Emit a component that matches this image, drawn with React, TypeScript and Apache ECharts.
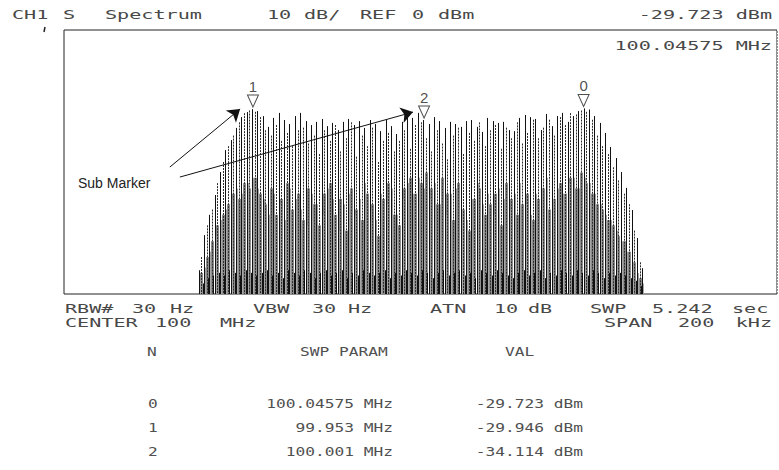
import React, { useEffect, useRef } from "react";
import * as echarts from "echarts";

// ---- data (frequency offset from 100 MHz centre in kHz, level in dBm) ----
const blackKHz = [
  -62.25, -60.75, -59.25, -57.75, -56.25, -54.75, -53.25, -51.75, -50.25, -48.75,
  -47.25, -45.75, -44.25, -42.75, -41.25, -39.75, -38.25, -36.75, -35.25, -33.75,
  -32.25, -30.75, -29.25, -27.75, -26.25, -24.75, -23.25, -21.75, -20.25, -18.75,
  -17.25, -15.75, -14.25, -12.75, -11.25, -9.75, -8.25, -6.75, -5.25, -3.75,
  -2.25, -0.75, 0.75, 2.25, 3.75, 5.25, 6.75, 8.25, 9.75, 11.25,
  12.75, 14.25, 15.75, 17.25, 18.75, 20.25, 21.75, 23.25, 24.75, 26.25,
  27.75, 29.25, 30.75, 32.25, 33.75, 35.25, 36.75, 38.25, 39.75, 41.25,
  42.75, 44.25, 45.75, 47.25, 48.75, 50.25, 51.75, 53.25, 54.75, 56.25,
  57.75, 59.25, 60.75, 62.25,
];
const blackDbm = [
  -91, -77.7, -70, -62.5, -53.8, -45.5, -41.7, -37.1, -33, -31.1,
  -30, -30.7, -32.6, -36.7, -33.3, -31.4, -34.1, -35.6, -32.6, -31.4,
  -34.5, -36, -34.8, -33.7, -36.4, -35.2, -37.9, -34.8, -33.7, -36,
  -34.5, -37.1, -34.1, -35.6, -38.3, -34.1, -36.4, -39.4, -34.8, -32.6,
  -33.3, -31.4, -34.1, -35.6, -33, -34.5, -37.1, -34.8, -35.6, -36.7,
  -34.5, -34.1, -36.7, -38.6, -33.3, -34.5, -35.2, -34.8, -37.9, -38.3,
  -33.3, -32.2, -33, -33.7, -37.9, -31.8, -36.4, -32.6, -31.4, -34.8,
  -32.6, -30.7, -29.7, -30.1, -32.6, -35.2, -39, -44.3, -48.5, -53.8,
  -59.8, -68.2, -78.8, -90.2,
];
// lower-level grey trace at the same comb positions
const greyBlackDbm = [
  -95, -90, -84, -78, -72, -68, -64, -60, -62, -58,
  -56, -60, -64, -70, -62, -66, -72, -60, -64, -68,
  -74, -62, -66, -70, -60, -64, -76, -66, -62, -70,
  -64, -58, -68, -72, -62, -66, -60, -70, -64, -58,
  -62, -56, -60, -64, -58, -66, -70, -62, -60, -68,
  -72, -64, -58, -66, -62, -70, -60, -64, -68, -62,
  -58, -66, -70, -62, -60, -56, -64, -60, -62, -58,
  -56, -60, -56, -58, -62, -66, -70, -72, -76, -80,
  -84, -88, -92, -96,
];
const dottedKHz = [
  -61.5, -60, -58.5, -57, -55.5, -54, -52.5, -51, -49.5, -48,
  -46.5, -45, -43.5, -42, -40.5, -39, -37.5, -36, -34.5, -33,
  -31.5, -30, -28.5, -27, -25.5, -24, -22.5, -21, -19.5, -18,
  -16.5, -15, -13.5, -12, -10.5, -9, -7.5, -6, -4.5, -3,
  -1.5, 0, 1.5, 3, 4.5, 6, 7.5, 9, 10.5, 12,
  13.5, 15, 16.5, 18, 19.5, 21, 22.5, 24, 25.5, 27,
  28.5, 30, 31.5, 33, 34.5, 36, 37.5, 39, 40.5, 42,
  43.5, 45, 46.5, 48, 49.5, 51, 52.5, 54, 55.5, 57,
  58.5, 60, 61.5,
];
const dottedDbm = [
  -86, -74, -68, -58, -50, -44, -40, -35, -31.5, -30.5,
  -31, -33, -38, -40, -36, -42, -39, -44, -38, -37,
  -43, -40, -47, -38, -42, -36, -46, -41, -35, -48,
  -40, -44, -37, -50, -42, -39, -46, -42, -38, -45,
  -36, -35, -41, -46, -38, -43, -49, -40, -37, -47,
  -39, -42, -35, -44, -38, -36, -45, -37, -41, -35,
  -43, -39, -34, -41, -37, -34, -40, -33, -36, -31.5,
  -32, -30.5, -31, -34, -40, -44, -47, -52, -57, -62,
  -66, -76, -88,
];
const greyDbm = [
  -92, -86, -80, -74, -70, -66, -62, -64, -58, -60,
  -56, -62, -66, -60, -70, -64, -58, -68, -62, -72,
  -60, -66, -74, -62, -58, -70, -64, -76, -60, -68,
  -72, -62, -66, -78, -64, -58, -70, -74, -60, -56,
  -62, -58, -54, -60, -66, -56, -62, -72, -58, -68,
  -76, -64, -60, -70, -66, -62, -74, -58, -64, -70,
  -66, -62, -72, -64, -60, -68, -64, -58, -62, -56,
  -60, -54, -58, -62, -66, -68, -72, -74, -78, -80,
  -84, -88, -94,
];
// short low-level lines forming the dark band just above the floor
const floorDbm = [
  -96, -94, -93, -92, -93, -91, -92, -93, -91, -92,
  -93, -92, -91, -93, -92, -94, -91, -92, -93, -91,
  -92, -94, -92, -91, -93, -92, -91, -94, -92, -93,
  -91, -92, -93, -92, -91, -94, -92, -93, -91, -92,
  -93, -91, -92, -94, -92, -91, -93, -92, -91, -93,
  -92, -94, -91, -92, -93, -91, -92, -93, -94, -92,
  -91, -93, -92, -91, -94, -92, -93, -91, -92, -93,
  -91, -92, -93, -91, -92, -94, -92, -93, -92, -93,
  -94, -95, -97,
];

const markerNames = ["0", "1", "2"];
const markerKHz = [45.75, -47, 1];
const markerDbm = [-29.723, -29.946, -34.114];

const markerFreqLabels = ["100.04575 MHz", "99.953 MHz", "100.001 MHz"];
const markerValLabels = ["-29.723 dBm", "-29.946 dBm", "-34.114 dBm"];

// annotation arrows (tail -> head) in kHz / dBm
const arrowTails = [[-70.3, -51.9], [-67.5, -55.7]];
const arrowHeads = [[-50.6, -29.9], [-2.1, -31.1]];

const PLOT_FONT = "DejaVu Sans Mono";
const TEXT_COLOR = "#484848";

function ptext(text: string, x: number, y: number, opts: any = {}) {
  return {
    type: "text",
    x,
    y,
    scaleX: opts.scaleX ?? 1.55,
    silent: true,
    style: {
      text,
      font: `${opts.size ?? 13}px "${PLOT_FONT}"`,
      fill: opts.color ?? TEXT_COLOR,
      textAlign: opts.align ?? "left",
      textVerticalAlign: "middle",
    },
  };
}

function stemRenderer(color: string, width: number, dash?: number[], dx = 0) {
  return (params: any, api: any) => {
    const f = api.value(0);
    const v = api.value(1);
    const top = api.coord([f, v]);
    const bot = api.coord([f, -100]);
    const x = Math.round(top[0] + dx) + (width % 2 ? 0.5 : 0);
    return {
      type: "line",
      shape: { x1: x, y1: top[1], x2: x, y2: bot[1] },
      style: { stroke: color, lineWidth: width, lineDash: dash },
      silent: true,
    };
  };
}

export default function App() {
  const ref = useRef<HTMLDivElement>(null);
  useEffect(() => {
    document.body.style.margin = "0";
    if (!ref.current) return;
    const chart = echarts.init(ref.current, null, { renderer: "svg" });

    const tableOpts = { size: 12, scaleX: 1.35, color: "#505050" };
    const graphics: any[] = [
      // top header
      ptext("CH1", 12, 14),
      ptext("S", 63, 14),
      ptext("Spectrum", 105, 14),
      ptext("10", 267, 14),
      ptext("dB/", 304, 14),
      ptext("REF", 360, 14),
      ptext("0", 412, 14),
      ptext("dBm", 438, 14),
      ptext("-29.723 dBm", 772, 14, { align: "right" }),
      ptext("100.04575 MHz", 772, 45, { align: "right" }),
      // bottom settings rows
      ptext("RBW#", 65, 308),
      ptext("30", 132, 308),
      ptext("Hz", 170, 308),
      ptext("VBW", 253, 308),
      ptext("30", 312, 308),
      ptext("Hz", 348, 308),
      ptext("ATN", 430, 308),
      ptext("10", 494, 308),
      ptext("dB", 528, 308),
      ptext("SWP", 590, 308),
      ptext("5.242", 652, 308),
      ptext("sec", 732, 308),
      ptext("CENTER", 65, 322),
      ptext("100", 155, 322),
      ptext("MHz", 220, 322),
      ptext("SPAN", 604, 322),
      ptext("200", 678, 322),
      ptext("kHz", 772, 322, { align: "right" }),
      // table
      ptext("N", 147, 352, tableOpts),
      ptext("SWP PARAM", 300, 352, tableOpts),
      ptext("VAL", 505, 352, tableOpts),
      // ref level tick
      {
        type: "line",
        silent: true,
        shape: { x1: 45, y1: 27, x2: 44, y2: 32 },
        style: { stroke: "#222", lineWidth: 1.5 },
      },
      // dotted right edge of the graticule
      {
        type: "line",
        silent: true,
        z: 10,
        shape: { x1: 777.5, y1: 30, x2: 777.5, y2: 294 },
        style: { stroke: "#fff", lineWidth: 1, lineDash: [1, 2] },
      },
      {
        type: "text",
        x: 78,
        y: 183,
        silent: true,
        style: {
          text: "Sub Marker",
          font: '14px "Liberation Sans"',
          fill: "#222",
          textVerticalAlign: "middle",
        },
      },
    ];
    const rowY = [404, 428, 452];
    markerNames.forEach((n, i) => {
      graphics.push(ptext(n, 148, rowY[i], tableOpts));
      graphics.push(ptext(markerFreqLabels[i], 393, rowY[i], { ...tableOpts, align: "right" }));
      graphics.push(ptext(markerValLabels[i], 583, rowY[i], { ...tableOpts, align: "right" }));
    });

    chart.setOption({
      animation: false,
      backgroundColor: "#fff",
      grid: { left: 64, top: 30, width: 713, height: 264, show: true, borderColor: "#222", borderWidth: 1 },
      xAxis: {
        type: "value",
        min: -100,
        max: 100,
        axisLine: { show: false },
        axisTick: { show: false },
        axisLabel: { show: false },
        splitLine: { show: false },
      },
      yAxis: {
        type: "value",
        min: -100,
        max: 0,
        axisLine: { show: false },
        axisTick: { show: false },
        axisLabel: { show: false },
        splitLine: { show: false },
      },
      graphic: graphics,
      series: [
        {
          type: "custom",
          name: "grey-a",
          renderItem: stemRenderer("#8e8e8e", 3),
          data: dottedKHz.map((f, i) => [f, greyDbm[i]]),
          z: 1,
        },
        {
          type: "custom",
          name: "grey-b",
          renderItem: stemRenderer("#a6a6a6", 2, undefined, 1),
          data: blackKHz.map((f, i) => [f, greyBlackDbm[i]]),
          z: 1,
        },
        {
          type: "custom",
          name: "dotted",
          renderItem: stemRenderer("#2a2a2a", 1, [2, 1]),
          data: dottedKHz.map((f, i) => [f, dottedDbm[i]]),
          z: 2,
        },
        {
          type: "custom",
          name: "floor",
          renderItem: stemRenderer("#111", 1, undefined, 1.5),
          data: dottedKHz.map((f, i) => [f, floorDbm[i]]),
          z: 2,
        },
        {
          type: "custom",
          name: "black",
          renderItem: stemRenderer("#111", 1),
          data: blackKHz.map((f, i) => [f, blackDbm[i]]),
          z: 3,
        },
        {
          type: "scatter",
          name: "markers",
          z: 5,
          symbol: "path://M0,0 L10,0 L5,11 Z",
          symbolSize: [11, 12],
          symbolOffset: [0, -8],
          itemStyle: { color: "#fff", borderColor: "#222", borderWidth: 1 },
          label: {
            show: true,
            position: "top",
            distance: 1,
            formatter: (p: any) => p.name,
            fontFamily: "Liberation Sans",
            fontSize: 15,
            color: "#222",
          },
          data: markerNames.map((n, i) => ({ name: n, value: [markerKHz[i], markerDbm[i]] })),
          markLine: {
            silent: true,
            symbol: ["none", "arrow"],
            symbolSize: 12,
            label: { show: false },
            lineStyle: { color: "#111", width: 1, type: "solid" },
            data: arrowTails.map((t, i) => [{ coord: t }, { coord: arrowHeads[i] }]),
          },
        },
      ],
    });
    return () => chart.dispose();
  }, []);
  return <div ref={ref} style={{ width: 779, height: 470 }} />;
}
